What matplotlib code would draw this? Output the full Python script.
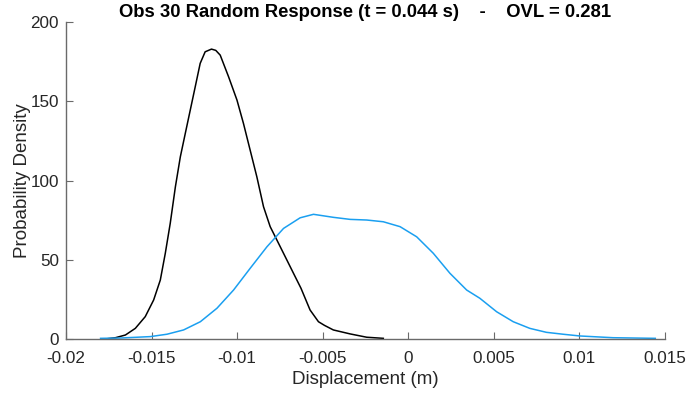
import matplotlib
matplotlib.use("Agg")
import matplotlib.pyplot as plt

plt.rcParams['font.family'] = ['Liberation Sans', 'DejaVu Sans']

# kernel density of the observed response (black)
obs_x = [-0.0177, -0.01711, -0.01653, -0.01595, -0.01537, -0.01488, -0.01449,
         -0.0142, -0.01391, -0.01361, -0.01332, -0.01303, -0.01274, -0.01245,
         -0.01216, -0.01187, -0.0115, -0.01125, -0.01099, -0.0105, -0.01001,
         -0.00963, -0.00924, -0.00885, -0.00846, -0.00807, -0.00768, -0.00719,
         -0.00671, -0.00627, -0.00574, -0.00525, -0.0049, -0.00438, -0.0034,
         -0.00243, -0.00146]
obs_y = [0.0, 0.8, 2.5, 6.7, 14.1, 24.6, 37.2, 54.0, 73.0, 96.0, 115.0, 129.8,
         144.5, 159.2, 174.0, 181.3, 183.0, 182.2, 179.2, 165.5, 150.8, 136.0,
         119.2, 102.4, 83.5, 70.9, 62.5, 51.9, 41.5, 32.0, 18.3, 10.9, 8.6, 5.7,
         3.2, 1.1, 0.4]

# kernel density of the random model response (blue)
rnd_x = [-0.01798, -0.01682, -0.01507, -0.0141, -0.01313, -0.01215, -0.01118,
         -0.01021, -0.00924, -0.00826, -0.00729, -0.00632, -0.00554, -0.00438,
         -0.0034, -0.00243, -0.00146, -0.00048, 0.00049, 0.00146, 0.00243,
         0.00341, 0.00418, 0.00516, 0.00613, 0.0071, 0.00807, 0.00904, 0.01002,
         0.01196, 0.01443]
rnd_y = [0.4, 0.6, 1.5, 3.0, 5.7, 10.9, 19.4, 30.9, 44.6, 58.2, 69.8, 76.5,
         78.7, 76.8, 75.5, 75.1, 74.0, 70.9, 64.5, 54.1, 41.5, 30.9, 25.7,
         17.2, 10.9, 6.7, 4.2, 3.0, 1.9, 0.8, 0.4]

x_ticks = [-0.02, -0.015, -0.01, -0.005, 0, 0.005, 0.01, 0.015]
x_labels = ['-0.02', '-0.015', '-0.01', '-0.005', '0', '0.005', '0.01', '0.015']
y_ticks = [0, 50, 100, 150, 200]

txt = '#262626'
axc = '#6a6a6a'

fig = plt.figure(figsize=(6.89, 3.96), dpi=100)
ax = fig.add_axes([0.0958, 0.144, 0.8694, 0.8])

ax.plot(obs_x, obs_y, color='black', lw=1.1)
ax.plot(rnd_x, rnd_y, color='#1a9ff0', lw=1.1)

ax.set_xlim(-0.02, 0.015)
ax.set_ylim(0, 200)
ax.set_xticks(x_ticks)
ax.set_xticklabels(x_labels)
ax.set_yticks(y_ticks)

for side in ['top', 'right']:
    ax.spines[side].set_visible(False)
for side in ['left', 'bottom']:
    ax.spines[side].set_color(axc)
    ax.spines[side].set_linewidth(1.0)

ax.tick_params(direction='in', length=5, width=0.8, color=axc,
               labelcolor=txt, labelsize=12.3)
ax.tick_params(axis='x', pad=9)
ax.tick_params(axis='y', pad=5)

ax.set_xlabel('Displacement (m)', fontsize=13.5, color=txt, labelpad=3)
ax.set_ylabel('Probability Density', fontsize=13.5, color=txt, labelpad=0)
ax.set_title('Obs 30 Random Response (t = 0.044 s)    -    OVL = 0.281',
             fontsize=13.3, fontweight='bold', color='black', pad=4)

fig.savefig('out.png', dpi=100)
